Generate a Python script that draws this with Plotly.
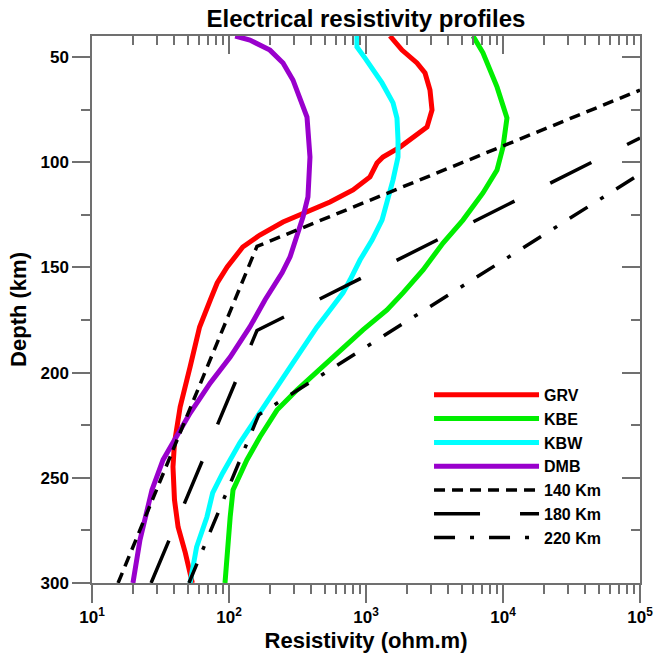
import plotly.graph_objects as go

# ---- data ----
grv_rho = [1496, 1832, 2355, 2697, 2931, 3033, 2788, 2355, 1771, 1330, 1203, 1069, 875, 804, 546, 347, 248, 168, 126, 97, 82, 73, 61, 52, 44, 40, 39, 40, 42.5, 48, 54]
grv_depth = [40, 46.7, 52.8, 57.6, 65.7, 75.2, 83.3, 87.1, 92.8, 97.5, 100.4, 107.0, 111.8, 113.2, 118.9, 124.1, 128.4, 134.6, 140.3, 149.8, 157.4, 165.5, 178.3, 197.3, 216.3, 233.4, 244.8, 260.5, 273.4, 285.7, 300]

kbe_rho = [6040, 7140, 9040, 10690, 10000, 9040, 7140, 5100, 3650, 2610, 1862, 1423, 951, 614, 439, 313, 224, 168, 135, 107, 102, 97, 93.5]
kbe_depth = [40, 48, 64.2, 79, 92.8, 103.7, 114.6, 127.5, 138.4, 151.2, 162.1, 170.2, 179.7, 190.7, 199.7, 208.3, 217.8, 230.6, 241.5, 255.8, 268.6, 285.7, 300]

kbw_rho = [859, 859, 984, 1309, 1575, 1683, 1713, 1713, 1575, 1449, 1309, 1107, 904, 764, 679, 546, 439, 293, 224, 174, 150, 120, 90, 76, 69, 58, 52]
kbw_depth = [40, 45.2, 50.5, 62.3, 71.8, 79, 89.4, 97.5, 108.4, 117.9, 127.5, 137, 146.5, 156, 162.1, 170.2, 178.3, 195.4, 206.8, 217.8, 223.9, 233.4, 247.7, 257.2, 268.6, 282.9, 300]

dmb_rho = [111, 142, 199, 248, 293, 371, 390, 377, 347, 313, 279, 244, 183, 142, 102, 73, 52, 40, 33, 27.4, 24.4, 22.4, 19.9]
dmb_depth = [40, 41.9, 46.7, 52.8, 60.9, 78.5, 97.5, 116.5, 126, 135.5, 145, 152.6, 165.5, 178.3, 192.6, 204.9, 219.2, 232, 241.5, 255.8, 268.6, 279.5, 300]

m140_rho = [15.5, 160, 100000]
m140_depth = [300, 140, 65.7]
m180_rho = [27, 160, 100000]
m180_depth = [300, 180, 88.5]
m220_rho = [51, 165, 100000]
m220_depth = [300, 220, 105.6]

x_tickvals = [10, 100, 1000, 10000, 100000]
x_ticktext = ["10<sup>1</sup>", "10<sup>2</sup>", "10<sup>3</sup>", "10<sup>4</sup>", "10<sup>5</sup>"]
y_tickvals = [50, 100, 150, 200, 250, 300]
y_ticktext = ["50", "100", "150", "200", "250", "300"]

FONT = "Liberation Sans, Arial, sans-serif"
AX = "#707070"

fig = go.Figure()
series = [
    ("GRV", grv_rho, grv_depth, "#ff0000", 5, "solid"),
    ("KBE", kbe_rho, kbe_depth, "#00ee00", 5, "solid"),
    ("KBW", kbw_rho, kbw_depth, "#00ffff", 5, "solid"),
    ("DMB", dmb_rho, dmb_depth, "#9900cc", 5, "solid"),
    ("140 Km", m140_rho, m140_depth, "black", 3.5, "11px,7px"),
    ("180 Km", m180_rho, m180_depth, "black", 3.5, "46px,40px"),
    ("220 Km", m220_rho, m220_depth, "black", 3.5, "21px,15px,4px,15px"),
]
for name, xs, ys, col, w, dash in series:
    fig.add_trace(go.Scatter(x=xs, y=ys, mode="lines", name=name,
                             line=dict(color=col, width=w, dash=dash)))

# overlay axes for inward ticks on top/right
fig.add_trace(go.Scatter(x=[], y=[], xaxis="x2", yaxis="y2", showlegend=False, hoverinfo="skip"))

fig.update_layout(
    width=655, height=660,
    margin=dict(l=92, r=15, t=36, b=77, autoexpand=False),
    plot_bgcolor="white", paper_bgcolor="white",
    font=dict(family=FONT, color="black"),
    title=dict(text="Electrical resistivity profiles", x=0.5, xref="paper",
               y=0.972, yref="container", yanchor="middle", automargin=False,
               font=dict(size=24, family=FONT, weight="bold", color="black")),
    showlegend=True,
    legend=dict(x=0.615, y=0.375, xanchor="left", yanchor="top",
                bgcolor="rgba(0,0,0,0)", itemwidth=105,
                font=dict(size=16, family=FONT, weight="bold", color="black")),
    xaxis=dict(type="log", range=[1, 5], tickmode="array", tickvals=x_tickvals, ticktext=x_ticktext,
               automargin=False,
               ticks="outside", ticklen=18, tickwidth=1.5, tickcolor=AX,
               minor=dict(ticks="outside", ticklen=9, tickwidth=1.5, tickcolor=AX, dtick="D1", showgrid=False),
               showline=True, linecolor=AX, linewidth=1.5, mirror=True,
               showgrid=False, zeroline=False,
               tickfont=dict(size=17, family=FONT, weight="bold", color="black"),
               title=dict(text="Resistivity (ohm.m)", standoff=6,
                          font=dict(size=22, family=FONT, weight="bold", color="black"))),
    yaxis=dict(range=[300, 40], tickmode="array", tickvals=y_tickvals, ticktext=y_ticktext,
               automargin=False,
               ticks="outside", ticklen=18, tickwidth=1.5, tickcolor=AX,
               minor=dict(ticks="outside", ticklen=9, tickwidth=1.5, tickcolor=AX, dtick=25, tick0=0, showgrid=False),
               showline=True, linecolor=AX, linewidth=1.5, mirror=True,
               showgrid=False, zeroline=False,
               tickfont=dict(size=17, family=FONT, weight="bold", color="black"),
               title=dict(text="Depth (km)", standoff=8,
                          font=dict(size=22, family=FONT, weight="bold", color="black"))),
    xaxis2=dict(type="log", range=[1, 5], overlaying="x", side="top", anchor="y2", automargin=False,
                tickmode="array", tickvals=x_tickvals, ticks="inside", ticklen=18, tickwidth=1.5, tickcolor=AX,
                minor=dict(ticks="inside", ticklen=9, tickwidth=1.5, tickcolor=AX, dtick="D1", showgrid=False),
                showticklabels=False, showgrid=False, zeroline=False, showline=False),
    yaxis2=dict(range=[300, 40], overlaying="y", side="right", anchor="x2", automargin=False,
                tickmode="array", tickvals=y_tickvals, ticks="inside", ticklen=18, tickwidth=1.5, tickcolor=AX,
                minor=dict(ticks="inside", ticklen=9, tickwidth=1.5, tickcolor=AX, dtick=25, tick0=0, showgrid=False),
                showticklabels=False, showgrid=False, zeroline=False, showline=False),
)

fig.write_html("out.html")
